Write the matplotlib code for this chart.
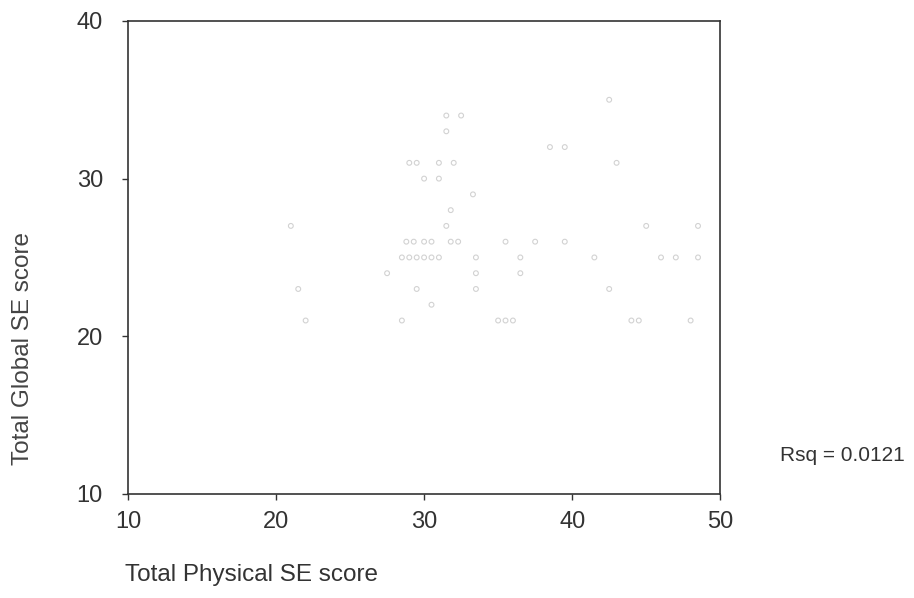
import numpy as np
import matplotlib.pyplot as plt

plt.rcParams['font.family'] = ['Liberation Sans', 'DejaVu Sans']

# scatter points (Total Physical SE score, Total Global SE score)
physical = [42.5,
            31.5, 32.5, 31.5,
            38.5, 39.5,
            29, 29.5, 31, 32, 43,
            30, 31,
            33.3,
            31.8,
            21, 31.5, 45, 48.5,
            28.8, 29.3, 30, 30.5, 31.8, 32.3, 35.5, 37.5, 39.5,
            28.5, 29, 29.5, 30, 30.5, 31, 33.5, 36.5, 41.5, 46, 47, 48.5,
            27.5, 33.5, 36.5,
            21.5, 29.5, 33.5, 42.5,
            30.5,
            22, 28.5, 35, 35.5, 36, 44, 44.5, 48]
global_se = [35,
             34, 34, 33,
             32, 32,
             31, 31, 31, 31, 31,
             30, 30,
             29,
             28,
             27, 27, 27, 27,
             26, 26, 26, 26, 26, 26, 26, 26, 26,
             25, 25, 25, 25, 25, 25, 25, 25, 25, 25, 25, 25,
             24, 24, 24,
             23, 23, 23, 23,
             22,
             21, 21, 21, 21, 21, 21, 21, 21]

x_ticks = [10, 20, 30, 40, 50]
y_ticks = [10, 20, 30, 40]
rsq_text = 'Rsq = 0.0121'

fig = plt.figure(figsize=(9.14, 5.98), dpi=100)
ax = fig.add_axes([0.140, 0.174, 0.648, 0.791])

ax.scatter(physical, global_se, s=12, facecolors='none',
           edgecolors='#d2d2d2', linewidths=0.8)

ax.set_xlim(10, 50)
ax.set_ylim(10, 40)
ax.set_xticks(x_ticks)
ax.set_yticks(y_ticks)
ax.tick_params(direction='out', length=4, width=1, color='#333333',
               labelsize=17, labelcolor='#333333')
ax.tick_params(axis='y', pad=14)
ax.tick_params(axis='x', pad=8)
for s in ax.spines.values():
    s.set_color('#333333')
    s.set_linewidth(1.2)

fig.text(0.013, 0.418, 'Total Global SE score', rotation=90, ha='left',
         va='center', fontsize=17.5, color='#444444')
fig.text(0.137, 0.038, 'Total Physical SE score', ha='left', va='center',
         fontsize=17.5, color='#333333')
fig.text(0.853, 0.238, rsq_text, ha='left', va='center', fontsize=15,
         color='#333333')

fig.savefig('out.png', dpi=100)
